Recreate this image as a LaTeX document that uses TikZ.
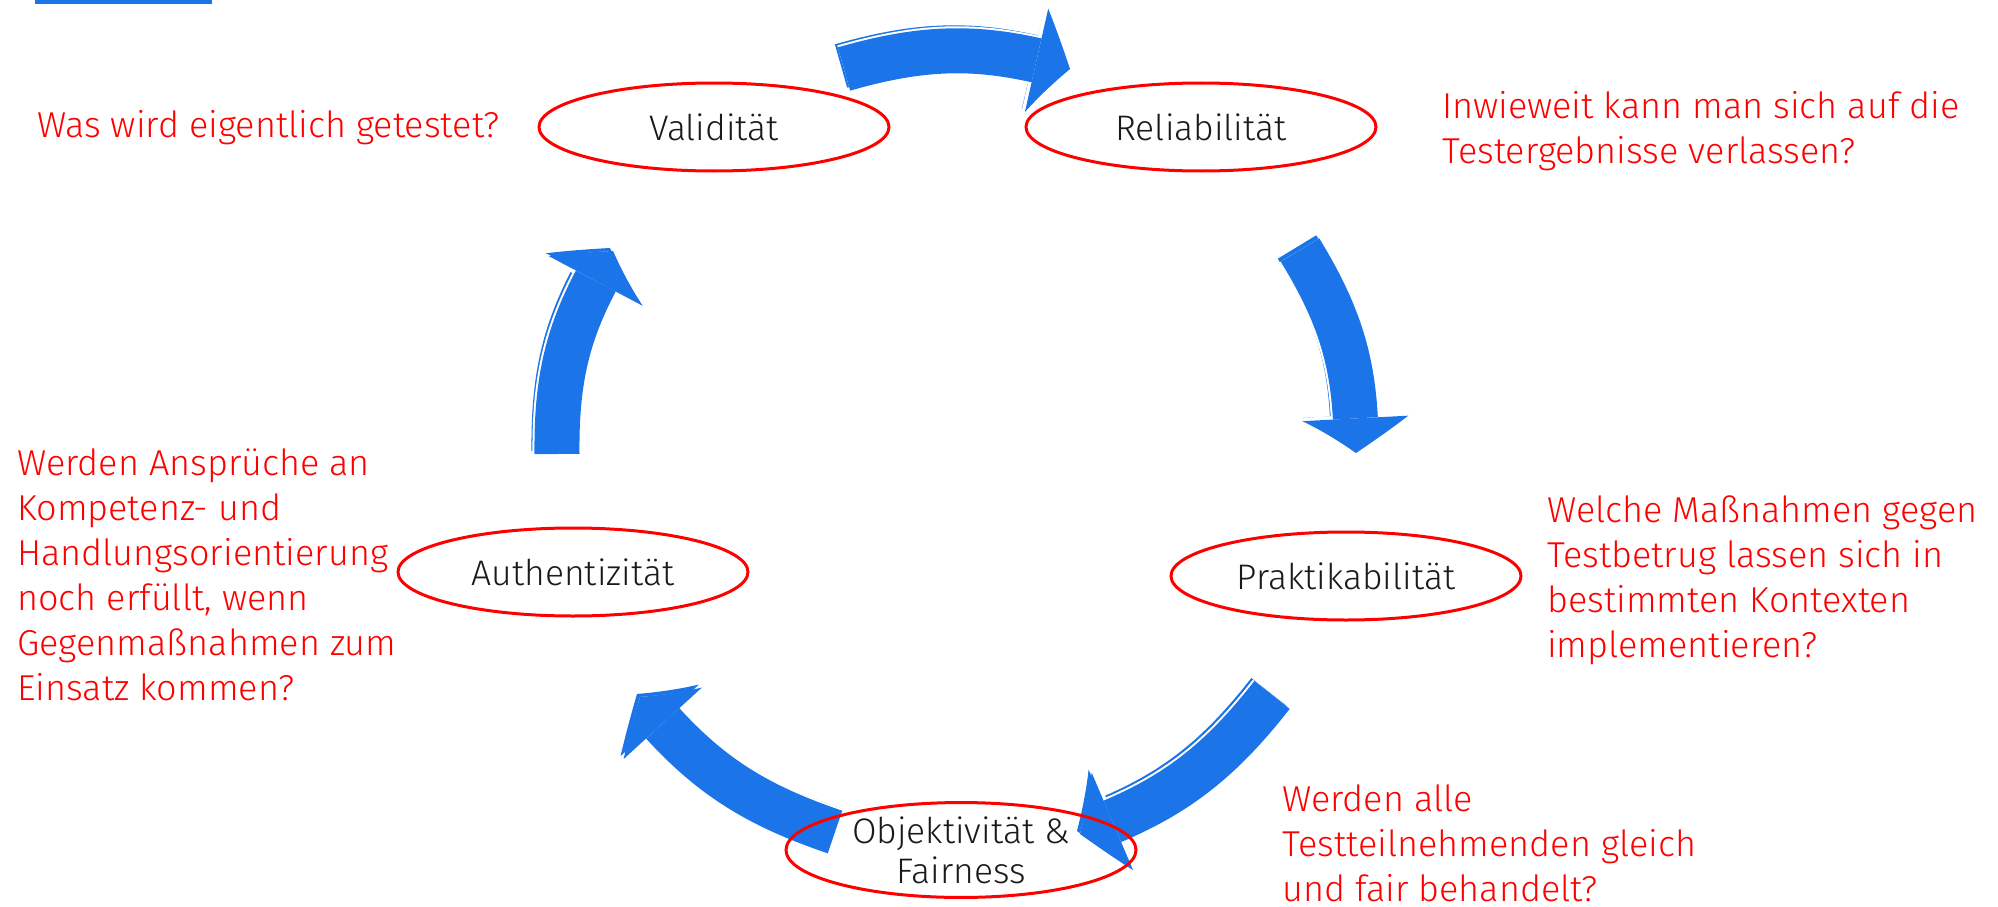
\documentclass[tikz,border=0pt]{standalone}
\usepackage{fontspec}
\IfFontExistsTF{Fira Sans Light}
  {\setmainfont{Fira Sans Light}}
  {\setmainfont{Fira Sans}}
\usetikzlibrary{arrows.meta,bending,calc,shapes.geometric,backgrounds}
\definecolor{cycblue}{HTML}{1B75E8}
\definecolor{cycred}{HTML}{FF0000}
\definecolor{cycink}{HTML}{1A1A1A}
\tikzset{
  % the five quality criteria
  criterion/.style={
    ellipse, draw=cycred, line width=3pt,
    minimum width=350pt, minimum height=88pt, inner sep=0pt,
    text=cycink, font=\fontsize{35.5}{40}\selectfont, align=center,
  },
  % guiding question beside each criterion (placed at its last baseline)
  question/.style={
    text=cycred, font=\fontsize{36}{45}\selectfont,
    align=left, anchor=base west, inner sep=0pt,
  },
  % cycle arrows: faint offset copy, white rim, blue body
  cyc body/.style={
    draw=cycblue, line width=45pt,
    -{Triangle[length=36pt,width=106pt,line width=0pt,bend]},
  },
  cyc rim/.style={
    draw=white, line width=49pt,
    -{Triangle[length=40pt,width=114pt,line width=0pt,bend]},
  },
  cyc ghost/.style={cyc body, transform canvas={shift={(-3pt,3pt)}}},
}
\newcommand\cycarrow[2]{%
  \draw[cyc ghost] (#1) to[bend left=16] (#2);
  \draw[cyc rim]   (#1) to[bend left=16] (#2);
  \draw[cyc body]  (#1) to[bend left=16] (#2);
}

\begin{document}
\begin{tikzpicture}[x=1pt,y=-1pt]
  \useasboundingbox (0,0) rectangle (1998,907);

  % ---- criteria --------------------------------------------------------------
  \node[criterion] (val)  at (714,127) {Validität};
  \node[criterion] (rel)  at (1201,127) {Reliabilität};
  \node[criterion] (prak) at (1346,576) {Praktikabilität};
  \node[criterion] (obj)  at (961,850) {Objektivität \&\\Fairness};
  \node[criterion] (auth) at (573,572) {Authentizität};

  % ---- questions -------------------------------------------------------------
  \node[question] (qval)  at (37,137) {Was wird eigentlich getestet?};
  \node[question] (qrel)  at (1442,163)
    {Inwieweit kann man sich auf die\\Testergebnisse verlassen?};
  \node[question] (qprak) at (1547,657)
    {Welche Maßnahmen gegen\\Testbetrug lassen sich in\\bestimmten Kontexten\\implementieren?};
  \node[question] (qobj)  at (1282,901)
    {Werden alle\\Testteilnehmenden gleich\\und fair behandelt?};
  \node[question] (qauth) at (17,700)
    {Werden Ansprüche an\\Kompetenz- und\\Handlungsorientierung\\noch erfüllt, wenn\\Gegenmaßnahmen zum\\Einsatz kommen?};

  % ---- arrow ends, hung on the criteria --------------------------------------
  \coordinate (a1s) at ([shift={(130,-58)}]val.center);
  \coordinate (a1e) at ([shift={(-131,-58)}]rel.center);
  \coordinate (a2s) at ([shift={(99,123)}]rel.center);
  \coordinate (a2e) at ([shift={(10,-123)}]prak.center);
  \coordinate (a3s) at ([shift={(-74,119)}]prak.center);
  \coordinate (a3e) at ([shift={(119,-16)}]obj.center);
  \coordinate (a4s) at ([shift={(-126,-18)}]obj.center);
  \coordinate (a4e) at ([shift={(67,125)}]auth.center);
  \coordinate (a5s) at ([shift={(-16,-118)}]auth.center);
  \coordinate (a5e) at ([shift={(-101,124)}]val.center);

  % ---- the cycle, under the ellipses -----------------------------------------
  \begin{pgfonlayer}{background}
    \fill[cycblue] (35,0) rectangle (212,4);
    \cycarrow{a1s}{a1e}
    \cycarrow{a2s}{a2e}
    \cycarrow{a3s}{a3e}
    \cycarrow{a4s}{a4e}
    \cycarrow{a5s}{a5e}
  \end{pgfonlayer}

\end{tikzpicture}
\end{document}
